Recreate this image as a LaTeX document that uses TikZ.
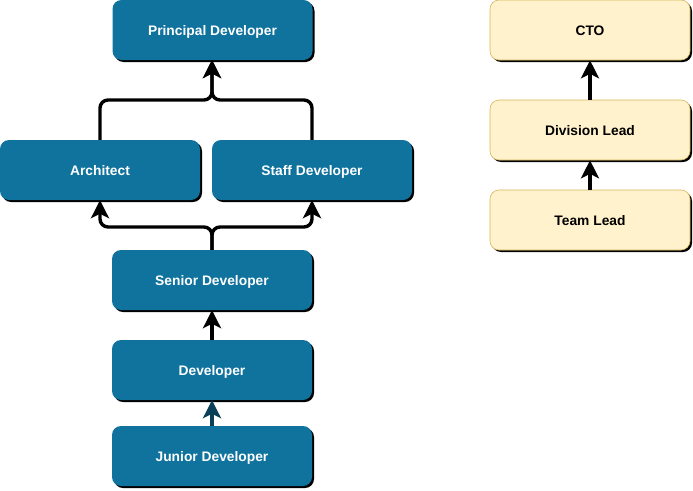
\documentclass[tikz,border=0pt]{standalone}
\usepackage{fontspec}
\setmainfont{Liberation Sans}
\usetikzlibrary{arrows.meta,shadows}
\definecolor{devblue}{HTML}{10739E}
\definecolor{yelfill}{HTML}{FFF2CC}
\definecolor{yelline}{HTML}{D6B656}
\colorlet{jcol}{devblue!55!black}
\begin{document}
\begin{tikzpicture}[x=1pt,y=-1pt,
  box/.style={rectangle, rounded corners=9pt, minimum width=200pt, minimum height=60pt,
    inner sep=0pt, text height=10pt, text depth=0pt,
    font=\bfseries\fontsize{13.8}{16}\selectfont,
    drop shadow={shadow xshift=2pt, shadow yshift=-2pt, opacity=1, fill=black}},
  devbox/.style={box, fill=devblue, text=white},
  leadbox/.style={box, fill=yelfill, draw=yelline, line width=0.6pt, text=black},
  conn/.style={draw=black, line width=3.4pt, rounded corners=8pt,
    -{Stealth[length=18pt,width=18pt,inset=4.5pt]}}
]
\useasboundingbox (0,0) rectangle (693,490);
\node[devbox] (prin) at (212.5,30) {Principal Developer};
\node[devbox] (arch) at (100,170) {Architect};
\node[devbox] (staff) at (312,170) {Staff Developer};
\node[devbox] (sen) at (212,280) {Senior Developer};
\node[devbox] (dev) at (212,370) {Developer};
\node[devbox] (jun) at (212,456) {Junior Developer};
\node[leadbox] (cto) at (590,30) {CTO};
\node[leadbox] (div) at (590,130) {Division Lead};
\node[leadbox] (team) at (590,220) {Team Lead};
\coordinate (jtop) at (212,100);
\coordinate (jbot) at (212,227);
\draw[conn] (arch.north) |- (jtop) -- (212,60);
\draw[conn] (staff.north) |- (jtop) -- (212,60);
\draw[conn] (sen.north) -- (jbot) -| (arch.south);
\draw[conn] (sen.north) -- (jbot) -| (staff.south);
\draw[conn] (dev.north) -- (sen.south);
\draw[conn, draw=jcol, fill=jcol] (jun.north) -- (dev.south);
\draw[conn] (team.north) -- (div.south);
\draw[conn] (div.north) -- (cto.south);
\end{tikzpicture}
\end{document}
